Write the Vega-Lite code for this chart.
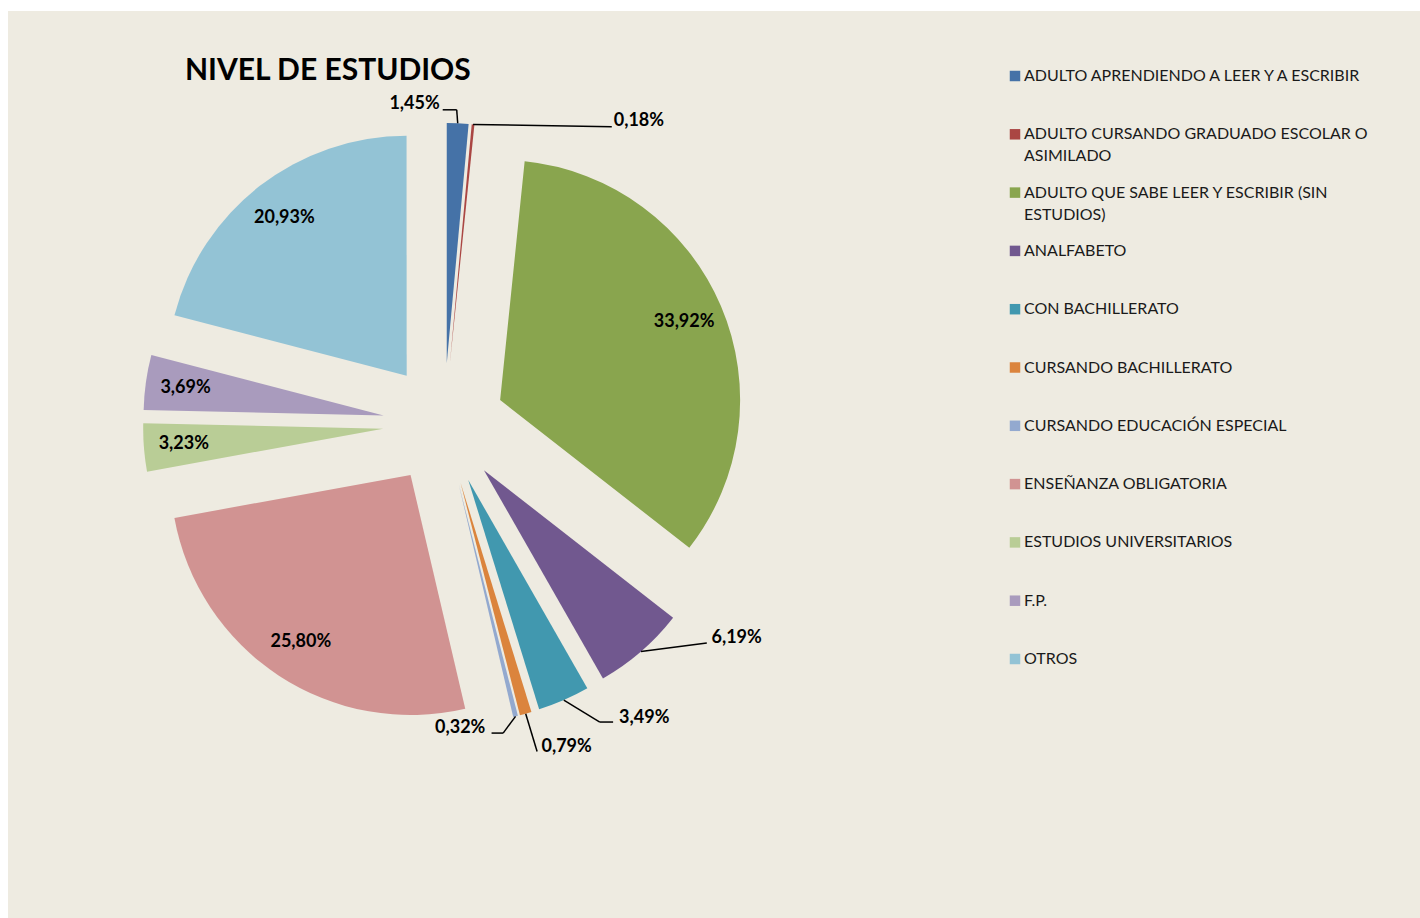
{
  "$schema": "https://vega.github.io/schema/vega-lite/v6.json",
  "width": 1412,
  "height": 907,
  "autosize": "none",
  "padding": {"left": 8, "top": 11, "right": 0, "bottom": 0},
  "background": "#FFFFFF",
  "config": {
    "view": {"fill": "#EEEBE1", "stroke": null},
    "text": {"font": "Lato"},
    "style": {"guide-label": {"lineHeight": 22}}
  },
  "title": {
    "text": "NIVEL DE ESTUDIOS",
    "anchor": "start",
    "frame": "group",
    "orient": "top",
    "font": "Lato",
    "fontSize": 30,
    "fontWeight": "bold",
    "color": "#000000",
    "offset": 0,
    "baseline": "alphabetic",
    "dx": 177,
    "dy": 99
  },
  "data": {
    "values": [
      {"nivel": "ADULTO APRENDIENDO A LEER Y A ESCRIBIR", "pct": 1.45},
      {"nivel": "ADULTO CURSANDO GRADUADO ESCOLAR O ASIMILADO", "pct": 0.18},
      {"nivel": "ADULTO QUE SABE LEER Y ESCRIBIR (SIN ESTUDIOS)", "pct": 33.92},
      {"nivel": "ANALFABETO", "pct": 6.19},
      {"nivel": "CON BACHILLERATO", "pct": 3.49},
      {"nivel": "CURSANDO BACHILLERATO", "pct": 0.79},
      {"nivel": "CURSANDO EDUCACIÓN ESPECIAL", "pct": 0.32},
      {"nivel": "ENSEÑANZA OBLIGATORIA", "pct": 25.80},
      {"nivel": "ESTUDIOS UNIVERSITARIOS", "pct": 3.23},
      {"nivel": "F.P.", "pct": 3.69},
      {"nivel": "OTROS", "pct": 20.93}
    ]
  },
  "transform": [
    {"window": [{"op": "sum", "field": "pct", "as": "acum"}], "frame": [null, 0]},
    {"calculate": "datum.acum - datum.pct", "as": "ini"},
    {"calculate": "(datum.acum - datum.pct / 2) * PI / 50", "as": "ang"},
    {"calculate": "sin(datum.ang)", "as": "sn"},
    {"calculate": "cos(datum.ang)", "as": "cs"},
    {"calculate": "0.2542 * datum.sn", "as": "ax"},
    {"calculate": "0.2542 * datum.cs", "as": "ay"},
    {"calculate": "datum.ax + 0.8333 * datum.sn", "as": "ix"},
    {"calculate": "datum.ay + 0.8333 * datum.cs", "as": "iy"},
    {"calculate": "datum.ax + datum.sn", "as": "sx"},
    {"calculate": "datum.ay + datum.cs", "as": "sy"},
    {"calculate": "replace(format(datum.pct, '.2f'), '.', ',') + '%'", "as": "etiq"}
  ],
  "layer": [
    {
      "mark": {"type": "arc", "radius": 240},
      "encoding": {
        "x": {"field": "ax", "type": "quantitative", "scale": {"domain": [-1.816667, 4.066667], "nice": false, "zero": false}, "axis": null},
        "y": {"field": "ay", "type": "quantitative", "scale": {"domain": [-2.058333, 1.720833], "nice": false, "zero": false}, "axis": null},
        "theta": {"field": "ini", "type": "quantitative", "stack": null, "scale": {"domain": [0, 100], "range": [0, 6.283185307]}},
        "theta2": {"field": "acum"},
        "color": {
          "field": "nivel",
          "type": "nominal",
          "scale": {
            "domain": [
              "ADULTO APRENDIENDO A LEER Y A ESCRIBIR",
              "ADULTO CURSANDO GRADUADO ESCOLAR O ASIMILADO",
              "ADULTO QUE SABE LEER Y ESCRIBIR (SIN ESTUDIOS)",
              "ANALFABETO",
              "CON BACHILLERATO",
              "CURSANDO BACHILLERATO",
              "CURSANDO EDUCACIÓN ESPECIAL",
              "ENSEÑANZA OBLIGATORIA",
              "ESTUDIOS UNIVERSITARIOS",
              "F.P.",
              "OTROS"
            ],
            "range": ["#4572A7", "#AA4643", "#89A54E", "#71588F", "#4198AF", "#DB843D", "#93A9CF", "#D19392", "#B9CD96", "#A99BBD", "#93C3D5"]
          },
          "legend": {
            "orient": "none",
            "legendX": 999,
            "legendY": 57,
            "title": null,
            "direction": "vertical",
            "symbolType": "square",
            "symbolSize": 110,
            "symbolStrokeWidth": 0,
            "labelFont": "Lato",
            "labelFontSize": 16,
            "labelColor": "#1A1A1A",
            "labelLimit": 420,
            "labelOffset": 1,
            "rowPadding": 20.3,
            "labelExpr": "datum.label == 'ADULTO CURSANDO GRADUADO ESCOLAR O ASIMILADO' ? ['ADULTO CURSANDO GRADUADO ESCOLAR O', 'ASIMILADO'] : datum.label == 'ADULTO QUE SABE LEER Y ESCRIBIR (SIN ESTUDIOS)' ? ['ADULTO QUE SABE LEER Y ESCRIBIR (SIN', 'ESTUDIOS)'] : [datum.label, '']"
          }
        }
      }
    },
    {
      "transform": [{"filter": {"field": "nivel", "oneOf": ["ADULTO QUE SABE LEER Y ESCRIBIR (SIN ESTUDIOS)", "ENSEÑANZA OBLIGATORIA", "ESTUDIOS UNIVERSITARIOS", "F.P.", "OTROS"]}}],
      "mark": {"type": "text", "font": "Lato", "fontSize": 18, "fontWeight": "bold", "color": "#000000", "align": "center", "baseline": "middle"},
      "encoding": {
        "x": {"field": "ix", "type": "quantitative", "scale": {"domain": [-1.816667, 4.066667], "nice": false, "zero": false}, "axis": null},
        "y": {"field": "iy", "type": "quantitative", "scale": {"domain": [-2.058333, 1.720833], "nice": false, "zero": false}, "axis": null},
        "text": {"field": "etiq"}
      }
    },
    {
      "transform": [{"filter": "datum.nivel == 'ADULTO APRENDIENDO A LEER Y A ESCRIBIR'"}],
      "mark": {"type": "rule", "color": "#000000", "strokeWidth": 1.5, "x2Offset": -1, "y2Offset": -13.5},
      "encoding": {
        "x": {"field": "sx", "type": "quantitative", "scale": {"domain": [-1.816667, 4.066667], "nice": false, "zero": false}, "axis": null},
        "y": {"field": "sy", "type": "quantitative", "scale": {"domain": [-2.058333, 1.720833], "nice": false, "zero": false}, "axis": null},
        "x2": {"field": "sx"},
        "y2": {"field": "sy"}
      }
    },
    {
      "transform": [{"filter": "datum.nivel == 'ADULTO APRENDIENDO A LEER Y A ESCRIBIR'"}],
      "mark": {"type": "rule", "color": "#000000", "strokeWidth": 1.5, "xOffset": -1, "yOffset": -13.5, "x2Offset": -15, "y2Offset": -13.5},
      "encoding": {
        "x": {"field": "sx", "type": "quantitative", "scale": {"domain": [-1.816667, 4.066667], "nice": false, "zero": false}, "axis": null},
        "y": {"field": "sy", "type": "quantitative", "scale": {"domain": [-2.058333, 1.720833], "nice": false, "zero": false}, "axis": null},
        "x2": {"field": "sx"},
        "y2": {"field": "sy"}
      }
    },
    {
      "transform": [{"filter": "datum.nivel == 'ADULTO APRENDIENDO A LEER Y A ESCRIBIR'"}],
      "mark": {"type": "text", "font": "Lato", "fontSize": 18, "fontWeight": "bold", "color": "#000000", "align": "right", "baseline": "middle", "dx": -18, "dy": -19.5},
      "encoding": {
        "x": {"field": "sx", "type": "quantitative", "scale": {"domain": [-1.816667, 4.066667], "nice": false, "zero": false}, "axis": null},
        "y": {"field": "sy", "type": "quantitative", "scale": {"domain": [-2.058333, 1.720833], "nice": false, "zero": false}, "axis": null},
        "text": {"field": "etiq"}
      }
    },
    {
      "transform": [{"filter": "datum.nivel == 'ADULTO CURSANDO GRADUADO ESCOLAR O ASIMILADO'"}],
      "mark": {"type": "rule", "color": "#000000", "strokeWidth": 1.5, "x2Offset": 138.7, "y2Offset": 2.4},
      "encoding": {
        "x": {"field": "sx", "type": "quantitative", "scale": {"domain": [-1.816667, 4.066667], "nice": false, "zero": false}, "axis": null},
        "y": {"field": "sy", "type": "quantitative", "scale": {"domain": [-2.058333, 1.720833], "nice": false, "zero": false}, "axis": null},
        "x2": {"field": "sx"},
        "y2": {"field": "sy"}
      }
    },
    {
      "transform": [{"filter": "datum.nivel == 'ADULTO CURSANDO GRADUADO ESCOLAR O ASIMILADO'"}],
      "mark": {"type": "text", "font": "Lato", "fontSize": 18, "fontWeight": "bold", "color": "#000000", "align": "left", "baseline": "middle", "dx": 140.7, "dy": -3.6},
      "encoding": {
        "x": {"field": "sx", "type": "quantitative", "scale": {"domain": [-1.816667, 4.066667], "nice": false, "zero": false}, "axis": null},
        "y": {"field": "sy", "type": "quantitative", "scale": {"domain": [-2.058333, 1.720833], "nice": false, "zero": false}, "axis": null},
        "text": {"field": "etiq"}
      }
    },
    {
      "transform": [{"filter": "datum.nivel == 'ANALFABETO'"}],
      "mark": {"type": "rule", "color": "#000000", "strokeWidth": 1.5, "x2Offset": 65.8, "y2Offset": -8.7},
      "encoding": {
        "x": {"field": "sx", "type": "quantitative", "scale": {"domain": [-1.816667, 4.066667], "nice": false, "zero": false}, "axis": null},
        "y": {"field": "sy", "type": "quantitative", "scale": {"domain": [-2.058333, 1.720833], "nice": false, "zero": false}, "axis": null},
        "x2": {"field": "sx"},
        "y2": {"field": "sy"}
      }
    },
    {
      "transform": [{"filter": "datum.nivel == 'ANALFABETO'"}],
      "mark": {"type": "text", "font": "Lato", "fontSize": 18, "fontWeight": "bold", "color": "#000000", "align": "left", "baseline": "middle", "dx": 70.5, "dy": -13.4},
      "encoding": {
        "x": {"field": "sx", "type": "quantitative", "scale": {"domain": [-1.816667, 4.066667], "nice": false, "zero": false}, "axis": null},
        "y": {"field": "sy", "type": "quantitative", "scale": {"domain": [-2.058333, 1.720833], "nice": false, "zero": false}, "axis": null},
        "text": {"field": "etiq"}
      }
    },
    {
      "transform": [{"filter": "datum.nivel == 'CON BACHILLERATO'"}],
      "mark": {"type": "rule", "color": "#000000", "strokeWidth": 1.5, "x2Offset": 36, "y2Offset": 21.9},
      "encoding": {
        "x": {"field": "sx", "type": "quantitative", "scale": {"domain": [-1.816667, 4.066667], "nice": false, "zero": false}, "axis": null},
        "y": {"field": "sy", "type": "quantitative", "scale": {"domain": [-2.058333, 1.720833], "nice": false, "zero": false}, "axis": null},
        "x2": {"field": "sx"},
        "y2": {"field": "sy"}
      }
    },
    {
      "transform": [{"filter": "datum.nivel == 'CON BACHILLERATO'"}],
      "mark": {"type": "rule", "color": "#000000", "strokeWidth": 1.5, "xOffset": 36, "yOffset": 21.9, "x2Offset": 49.3, "y2Offset": 21.9},
      "encoding": {
        "x": {"field": "sx", "type": "quantitative", "scale": {"domain": [-1.816667, 4.066667], "nice": false, "zero": false}, "axis": null},
        "y": {"field": "sy", "type": "quantitative", "scale": {"domain": [-2.058333, 1.720833], "nice": false, "zero": false}, "axis": null},
        "x2": {"field": "sx"},
        "y2": {"field": "sy"}
      }
    },
    {
      "transform": [{"filter": "datum.nivel == 'CON BACHILLERATO'"}],
      "mark": {"type": "text", "font": "Lato", "fontSize": 18, "fontWeight": "bold", "color": "#000000", "align": "left", "baseline": "middle", "dx": 55.3, "dy": 17.9},
      "encoding": {
        "x": {"field": "sx", "type": "quantitative", "scale": {"domain": [-1.816667, 4.066667], "nice": false, "zero": false}, "axis": null},
        "y": {"field": "sy", "type": "quantitative", "scale": {"domain": [-2.058333, 1.720833], "nice": false, "zero": false}, "axis": null},
        "text": {"field": "etiq"}
      }
    },
    {
      "transform": [{"filter": "datum.nivel == 'CURSANDO BACHILLERATO'"}],
      "mark": {"type": "rule", "color": "#000000", "strokeWidth": 1.5, "x2Offset": 11.4, "y2Offset": 37.8},
      "encoding": {
        "x": {"field": "sx", "type": "quantitative", "scale": {"domain": [-1.816667, 4.066667], "nice": false, "zero": false}, "axis": null},
        "y": {"field": "sy", "type": "quantitative", "scale": {"domain": [-2.058333, 1.720833], "nice": false, "zero": false}, "axis": null},
        "x2": {"field": "sx"},
        "y2": {"field": "sy"}
      }
    },
    {
      "transform": [{"filter": "datum.nivel == 'CURSANDO BACHILLERATO'"}],
      "mark": {"type": "text", "font": "Lato", "fontSize": 18, "fontWeight": "bold", "color": "#000000", "align": "left", "baseline": "middle", "dx": 15.8, "dy": 32.8},
      "encoding": {
        "x": {"field": "sx", "type": "quantitative", "scale": {"domain": [-1.816667, 4.066667], "nice": false, "zero": false}, "axis": null},
        "y": {"field": "sy", "type": "quantitative", "scale": {"domain": [-2.058333, 1.720833], "nice": false, "zero": false}, "axis": null},
        "text": {"field": "etiq"}
      }
    },
    {
      "transform": [{"filter": "datum.nivel == 'CURSANDO EDUCACIÓN ESPECIAL'"}],
      "mark": {"type": "rule", "color": "#000000", "strokeWidth": 1.5, "x2Offset": -12.4, "y2Offset": 16.7},
      "encoding": {
        "x": {"field": "sx", "type": "quantitative", "scale": {"domain": [-1.816667, 4.066667], "nice": false, "zero": false}, "axis": null},
        "y": {"field": "sy", "type": "quantitative", "scale": {"domain": [-2.058333, 1.720833], "nice": false, "zero": false}, "axis": null},
        "x2": {"field": "sx"},
        "y2": {"field": "sy"}
      }
    },
    {
      "transform": [{"filter": "datum.nivel == 'CURSANDO EDUCACIÓN ESPECIAL'"}],
      "mark": {"type": "rule", "color": "#000000", "strokeWidth": 1.5, "xOffset": -12.4, "yOffset": 16.7, "x2Offset": -24, "y2Offset": 16.7},
      "encoding": {
        "x": {"field": "sx", "type": "quantitative", "scale": {"domain": [-1.816667, 4.066667], "nice": false, "zero": false}, "axis": null},
        "y": {"field": "sy", "type": "quantitative", "scale": {"domain": [-2.058333, 1.720833], "nice": false, "zero": false}, "axis": null},
        "x2": {"field": "sx"},
        "y2": {"field": "sy"}
      }
    },
    {
      "transform": [{"filter": "datum.nivel == 'CURSANDO EDUCACIÓN ESPECIAL'"}],
      "mark": {"type": "text", "font": "Lato", "fontSize": 18, "fontWeight": "bold", "color": "#000000", "align": "right", "baseline": "middle", "dx": -30.2, "dy": 11.4},
      "encoding": {
        "x": {"field": "sx", "type": "quantitative", "scale": {"domain": [-1.816667, 4.066667], "nice": false, "zero": false}, "axis": null},
        "y": {"field": "sy", "type": "quantitative", "scale": {"domain": [-2.058333, 1.720833], "nice": false, "zero": false}, "axis": null},
        "text": {"field": "etiq"}
      }
    }
  ]
}
